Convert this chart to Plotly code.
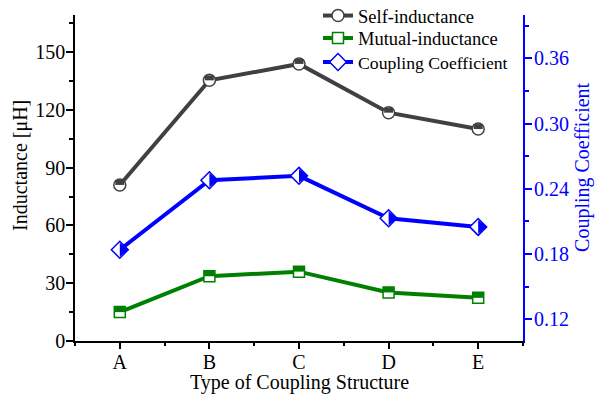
import plotly.graph_objects as go

categories = ["A", "B", "C", "D", "E"]
self_inductance = [81.0, 135.3, 143.8, 118.5, 110.0]
mutual_inductance = [15.0, 33.6, 36.0, 25.2, 22.4]
coupling_coefficient = [0.184, 0.248, 0.252, 0.213, 0.205]

left_ticks = [0, 30, 60, 90, 120, 150]
right_ticks = [0.12, 0.18, 0.24, 0.30, 0.36]

x = list(range(len(categories)))

GRAY = "#404040"
GREEN = "#008000"
BLUE = "#0000FF"
FONT = "Liberation Serif"

fig = go.Figure()

# Self-inductance: circle, top half filled
fig.add_trace(go.Scatter(
    x=x, y=self_inductance, name="Self-inductance", mode="lines+markers", legend="legend",
    line=dict(color=GRAY, width=4),
    marker=dict(symbol="circle", size=12, color="white", line=dict(color=GRAY, width=1.5)),
))
fig.add_trace(go.Scatter(
    x=x, y=self_inductance, mode="markers", showlegend=False, hoverinfo="skip",
    marker=dict(symbol="line-ew", size=6.4, color=GRAY, angle=180, standoff=2.5,
                line=dict(color=GRAY, width=5)),
))

# Mutual-inductance: square, top half filled
fig.add_trace(go.Scatter(
    x=x, y=mutual_inductance, name="Mutual-inductance", mode="lines+markers", legend="legend2",
    line=dict(color=GREEN, width=4),
    marker=dict(symbol="square", size=11, color="white", line=dict(color=GREEN, width=1.5)),
))
fig.add_trace(go.Scatter(
    x=x, y=mutual_inductance, mode="markers", showlegend=False, hoverinfo="skip",
    marker=dict(symbol="line-ew", size=7.9, color=GREEN, angle=180, standoff=2.75,
                line=dict(color=GREEN, width=5.5)),
))

# Coupling coefficient: diamond, right half filled
fig.add_trace(go.Scatter(
    x=x, y=coupling_coefficient, name="Coupling Coefficient", mode="lines+markers",
    yaxis="y2", legend="legend3",
    line=dict(color=BLUE, width=4),
    marker=dict(symbol="diamond", size=13, color="white", line=dict(color=BLUE, width=1.5)),
))
fig.add_trace(go.Scatter(
    x=x, y=coupling_coefficient, mode="markers", showlegend=False, hoverinfo="skip",
    yaxis="y2",
    marker=dict(symbol="triangle-down", size=12, color=BLUE, angle=-90, standoff=3,
                line=dict(color=BLUE, width=0)),
))

legend_common = dict(x=0.5424, xanchor="left", yanchor="middle", bgcolor="rgba(0,0,0,0)")

fig.update_layout(
    width=603, height=400,
    margin=dict(l=75, r=80, t=15, b=59, autoexpand=False),
    paper_bgcolor="white", plot_bgcolor="white",
    font=dict(family=FONT, size=20, color="black"),
    showlegend=True,
    legend=dict(y=0.9969, font=dict(family=FONT, size=18.5, color="black"), **legend_common),
    legend2=dict(y=0.9279, font=dict(family=FONT, size=18.5, color="black"), **legend_common),
    legend3=dict(y=0.8543, font=dict(family=FONT, size=17.7, color="black"), **legend_common),
    xaxis=dict(
        range=[-0.5, 4.5], tickmode="array", tickvals=x, ticktext=categories,
        showline=True, linecolor="black", linewidth=1.5, mirror=False,
        ticks="outside", ticklen=6, tickwidth=1.5, tickcolor="black",
        minor=dict(tick0=-0.5, dtick=1, ticks="outside", ticklen=3, tickwidth=1.5, tickcolor="black"),
        showgrid=False, zeroline=False, automargin=False,
        tickfont=dict(family=FONT, size=20), ticklabelstandoff=-4,
    ),
    yaxis=dict(
        range=[0, 169.2], tickmode="array", tickvals=left_ticks,
        showline=True, linecolor="black", linewidth=1.5,
        ticks="outside", ticklen=7, tickwidth=1.5, tickcolor="black",
        minor=dict(tick0=15, dtick=30, ticks="outside", ticklen=4, tickwidth=1.5, tickcolor="black"),
        showgrid=False, zeroline=False, automargin=False,
        tickfont=dict(family=FONT, size=20), ticklabelstandoff=-3,
    ),
    yaxis2=dict(
        range=[0.10, 0.40], overlaying="y", side="right", anchor="x",
        tickmode="array", tickvals=right_ticks, tickformat=".2f",
        showline=True, linecolor=BLUE, linewidth=2,
        ticks="outside", ticklen=7, tickwidth=1.5, tickcolor=BLUE,
        minor=dict(tick0=0.15, dtick=0.06, ticks="outside", ticklen=4, tickwidth=1.5, tickcolor=BLUE),
        showgrid=False, zeroline=False, automargin=False,
        tickfont=dict(family=FONT, size=20, color=BLUE), ticklabelstandoff=-2,
    ),
    annotations=[
        dict(text="Inductance [μH]", xref="paper", yref="paper", x=-0.1205, y=0.537,
             xanchor="center", yanchor="middle", textangle=-90, showarrow=False,
             font=dict(family=FONT, size=20, color="black")),
        dict(text="Coupling Coefficient", xref="paper", yref="paper", x=1.134, y=0.531,
             xanchor="center", yanchor="middle", textangle=-90, showarrow=False,
             font=dict(family=FONT, size=20, color=BLUE)),
        dict(text="Type of Coupling Structure", xref="paper", yref="paper", x=0.5, y=-0.1288,
             xanchor="center", yanchor="middle", showarrow=False,
             font=dict(family=FONT, size=20, color="black")),
    ],
)

fig.write_html("out.html")
